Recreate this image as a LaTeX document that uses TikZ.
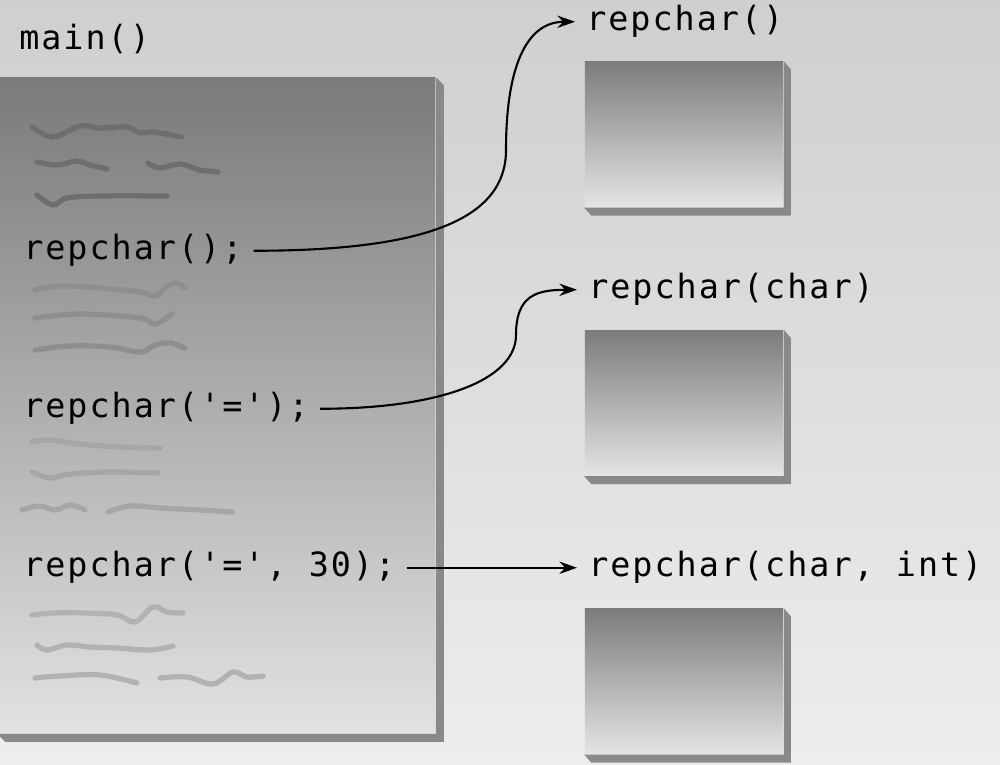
\documentclass[tikz,border=0pt]{standalone}
\usepackage{fontspec}
\newfontfamily\codefont{DejaVu Sans Mono}[LetterSpace=6]
\usetikzlibrary{arrows.meta, positioning, calc}
\definecolor{rpBackTop}{HTML}{CFCFCF}
\definecolor{rpBackBot}{HTML}{EDEDED}
\definecolor{rpPanelTop}{HTML}{7A7A7A}
\definecolor{rpPanelMid}{HTML}{C6C6C6}
\definecolor{rpPanelBot}{HTML}{E2E2E2}
\definecolor{rpBoxTop}{HTML}{7C7C7C}
\definecolor{rpBoxMid}{HTML}{B8B8B8}
\definecolor{rpBoxBot}{HTML}{E4E4E4}
\definecolor{rpShade}{HTML}{898989}
\definecolor{rpInkA}{HTML}{6E6E6E}
\definecolor{rpInkB}{HTML}{8E8E8E}
\definecolor{rpInkC}{HTML}{A6A6A6}
\definecolor{rpInkD}{HTML}{B2B2B2}

\begin{document}
\begin{tikzpicture}[x=0.01cm, y=-0.01cm,
  code/.style={font={\codefont\fontsize{9.5}{11}\selectfont}, text=black,
    inner xsep=3pt, inner ysep=0pt, anchor=base west},
  fnbox/.style={minimum width=1.98cm, minimum height=1.45cm, inner sep=0pt,
    top color=rpBoxTop, middle color=rpBoxMid, bottom color=rpBoxBot},
  scribble/.style={line width=1.5pt, line cap=round, line join=round},
  call/.style={-{Stealth[length=5pt,width=3.5pt]}, line width=0.6pt, black}]
  % background
  \shade[top color=rpBackTop, bottom color=rpBackBot] (0,0) rectangle (1000,765);
  \useasboundingbox (0,0) rectangle (1000,765);

  % calling program
  \node[code] (mainlbl) at (8,50) {main()};
  \node[minimum width=4.37cm, minimum height=6.55cm, inner sep=0pt,
    top color=rpPanelTop, middle color=rpPanelMid, bottom color=rpPanelBot]
    (mainpanel) at (216.5,405.5) {};
  \fill[rpShade] (mainpanel.north east) -- ++(8,8) -- ([shift={(8,8)}]mainpanel.south east)
    -- ([shift={(8,8)}]mainpanel.south west) -- (mainpanel.south west)
    -- (mainpanel.south east) -- cycle;

  \draw[scribble, rpInkA] plot[smooth, tension=0.6] coordinates {(32,127) (53,137) (80,126) (100,128) (127,127) (140,133) (153,132) (182,137)};
  \draw[scribble, rpInkA] plot[smooth, tension=0.6] coordinates {(37,162) (57,165) (77,161) (90,165) (107,169)};
  \draw[scribble, rpInkA] plot[smooth, tension=0.6] coordinates {(148,163) (160,168) (180,164) (200,170) (218,172)};
  \draw[scribble, rpInkA] plot[smooth, tension=0.6] coordinates {(37,195) (53,205) (67,198) (100,196) (167,196)};

  \node[code] (call1) at (12,260) {repchar();};

  \draw[scribble, rpInkB] plot[smooth, tension=0.6] coordinates {(35,290) (60,286) (100,288) (140,292) (155,296) (165,288) (175,283) (185,288)};
  \draw[scribble, rpInkB] plot[smooth, tension=0.6] coordinates {(35,318) (80,314) (140,318) (155,324) (172,314)};
  \draw[scribble, rpInkB] plot[smooth, tension=0.6] coordinates {(35,350) (70,346) (110,347) (140,352) (155,345) (170,343) (185,348)};

  \node[code] (call2) at (12,418) {repchar('=');};

  \draw[scribble, rpInkC] plot[smooth, tension=0.6] coordinates {(32,442) (50,440) (80,444) (120,447) (160,448)};
  \draw[scribble, rpInkC] plot[smooth, tension=0.6] coordinates {(32,472) (50,478) (70,474) (110,472) (158,473)};
  \draw[scribble, rpInkC] plot[smooth, tension=0.6] coordinates {(22,510) (40,506) (55,510) (70,505) (85,510)};
  \draw[scribble, rpInkC] plot[smooth, tension=0.6] coordinates {(108,512) (130,506) (160,508) (200,510) (232,512)};

  \node[code] (call3) at (12,577) {repchar('=', 30);};

  \draw[scribble, rpInkD] plot[smooth, tension=0.6] coordinates {(32,615) (53,613) (83,613) (117,615) (135,622) (153,607) (167,612) (183,613)};
  \draw[scribble, rpInkD] plot[smooth, tension=0.6] coordinates {(37,645) (47,650) (67,645) (90,647) (117,648) (150,650) (173,646)};
  \draw[scribble, rpInkD] plot[smooth, tension=0.6] coordinates {(35,678) (60,676) (100,675) (137,683)};
  \draw[scribble, rpInkD] plot[smooth, tension=0.6] coordinates {(160,678) (187,677) (213,684) (233,672) (247,677) (263,676)};

  % the three functions
  \node[code] (def1) at (575,31) {repchar()};
  \node[fnbox] (body1) at (684,134.5) {};
  \fill[rpShade] (body1.north east) -- ++(7,8) -- ([shift={(7,8)}]body1.south east)
    -- ([shift={(7,8)}]body1.south west) -- (body1.south west) -- (body1.south east) -- cycle;

  \node[code] (def2) at (577,299) {repchar(char)};
  \node[fnbox] (body2) at (684,403) {};
  \fill[rpShade] (body2.north east) -- ++(7,8) -- ([shift={(7,8)}]body2.south east)
    -- ([shift={(7,8)}]body2.south west) -- (body2.south west) -- (body2.south east) -- cycle;

  \node[code] (def3) at (577,577) {repchar(char, int)};
  \node[fnbox] (body3) at (684,681.5) {};
  \fill[rpShade] (body3.north east) -- ++(7,8) -- ([shift={(7,8)}]body3.south east)
    -- ([shift={(7,8)}]body3.south west) -- (body3.south west) -- (body3.south east) -- cycle;

  % calls
  \coordinate (bend1) at (506,150);
  \coordinate (bend2) at (516,335);
  \draw[call] (call1.east) .. controls +(170,0) and +(0,70) .. (bend1)
    .. controls +(0,-80) and +(-50,0) .. (def1.west);
  \draw[call] (call2.east) .. controls +(120,0) and +(0,45) .. (bend2)
    .. controls +(0,-40) and +(-40,0) .. (def2.west);
  \draw[call] (call3.east) -- (def3.west);
\end{tikzpicture}
\end{document}
